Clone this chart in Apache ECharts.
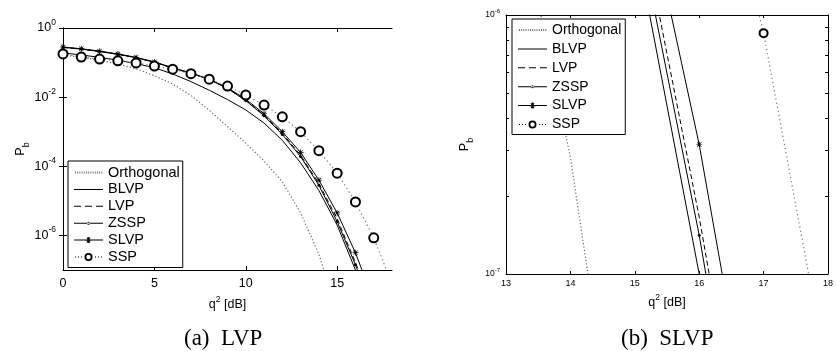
<!DOCTYPE html>
<html>
<head>
<meta charset="utf-8">
<script src="https://cdn.jsdelivr.net/npm/echarts@6/dist/echarts.min.js"></script>
<style>
html,body{margin:0;padding:0;background:#fff;}
#c{width:836px;height:351px;}
</style>
</head>
<body>
<div id="c"></div>
<script>
// ---- data (log10 of P_b) ----
const snrDb = [0,1,2,3,4,5,6,7,8,9,10,11,12,13,14,15,16,17,18];
const orthogonalExp = [-0.78,-0.85,-0.93,-1.04,-1.18,-1.38,-1.62,-1.95,-2.38,-2.85,-3.33,-3.85,-4.45,-5.35,-6.55,-8.2,-10.0,-12.0,-14.0];
const blvpExp  = [-0.72,-0.78,-0.85,-0.93,-1.03,-1.15,-1.33,-1.55,-1.80,-2.07,-2.37,-2.75,-3.25,-3.90,-4.70,-5.70,-7.00,-8.50,-10.2];
const lvpExp   = [-0.56,-0.61,-0.68,-0.76,-0.86,-0.99,-1.16,-1.31,-1.49,-1.74,-2.09,-2.52,-3.05,-3.68,-4.50,-5.52,-6.78,-8.20,-9.80];
const zsspExp  = [-0.56,-0.61,-0.68,-0.76,-0.86,-0.99,-1.16,-1.31,-1.49,-1.75,-2.10,-2.54,-3.08,-3.72,-4.55,-5.60,-6.85,-8.30,-9.90];
const slvpExp  = [-0.55,-0.60,-0.67,-0.75,-0.85,-0.98,-1.15,-1.30,-1.48,-1.73,-2.06,-2.48,-3.00,-3.60,-4.40,-5.35,-6.50,-7.90,-9.50];
const sspExp   = [-0.75,-0.84,-0.90,-0.95,-1.01,-1.10,-1.19,-1.32,-1.48,-1.68,-1.94,-2.23,-2.57,-3.00,-3.55,-4.20,-5.03,-6.07,-7.40];
const seriesNames = ['Orthogonal','BLVP','LVP','ZSSP','SLVP','SSP'];
const leftXTicks = [0,5,10,15];
const leftYTicks = [1,1e-2,1e-4,1e-6];
const rightYMinorTicks = [1e-7,2e-7,3e-7,4e-7,5e-7,6e-7,7e-7,8e-7,9e-7,1e-6];
const rightYLabels = [1e-7,1e-6];
const captions = ['(a)  LVP','(b)  SLVP'];

const FONT = 'Liberation Sans';
const toPts = exps => snrDb.map((x,i)=>[x, Math.pow(10, exps[i])]);

const starPath = 'path://M0,4.4L10,4.4L10,5.6L0,5.6Z M4.4,0L5.6,0L5.6,10L4.4,10Z M1,1.8L1.8,1L9,8.2L8.2,9Z M8.2,1L9,1.8L1.8,9L1,8.2Z';
const anchors = 'M0,0h0.01v0.01h-0.01Z M28.99,11.99h0.01v0.01h-0.01Z ';
function dotsPath(){ let s=''; for(let x=1;x<29;x+=2.2){ s+='M'+x+',5L'+(x+0.9)+',5L'+(x+0.9)+',7L'+x+',7Z '; } return s; }
const icons = {
  'Orthogonal': 'path://' + anchors + dotsPath(),
  'BLVP': 'path://' + anchors + 'M0,5.5L29,5.5L29,6.5L0,6.5Z',
  'LVP': 'path://' + anchors + 'M0,5.5L7,5.5L7,6.5L0,6.5Z M11,5.5L18,5.5L18,6.5L11,6.5Z M22,5.5L29,5.5L29,6.5L22,6.5Z',
  'ZSSP': 'path://' + anchors + 'M0,5.5L29,5.5L29,6.5L0,6.5Z M13,6a1.5,1.5 0 1,0 3,0a1.5,1.5 0 1,0 -3,0Z',
  'SLVP': 'path://' + anchors + 'M0,5.5L29,5.5L29,6.5L0,6.5Z M11.5,5.4L17.5,5.4L17.5,6.6L11.5,6.6Z M13.9,3L15.1,3L15.1,9L13.9,9Z M12.6,3.8L13.3,3.1L16.4,8.2L15.7,8.9Z M15.7,3.1L16.4,3.8L13.3,8.9L12.6,8.2Z',
  'SSP': 'path://' + anchors + 'M1,5.4L2,5.4L2,6.6L1,6.6Z M4,5.4L5,5.4L5,6.6L4,6.6Z M7,5.4L8,5.4L8,6.6L7,6.6Z M21,5.4L22,5.4L22,6.6L21,6.6Z M24,5.4L25,5.4L25,6.6L24,6.6Z M27,5.4L28,5.4L28,6.6L27,6.6Z M10.5,6a4,4 0 1,0 8,0a4,4 0 1,0 -8,0Z M12.3,6a2.2,2.2 0 1,1 4.4,0a2.2,2.2 0 1,1 -4.4,0Z'
};

function makeSeries(xi, yi, big){
  return [
    {name:'Orthogonal', data: toPts(orthogonalExp), symbol:'none', lineStyle:{color:'#666', width:1.2, type:[1.2,2.2]}, itemStyle:{color:'#666'}},
    {name:'BLVP', data: toPts(blvpExp), symbol:'none', lineStyle:{color:'#000', width:1}, itemStyle:{color:'#000'}},
    {name:'LVP', data: toPts(lvpExp), symbol:'none', lineStyle:{color:'#000', width:1, type:[5,3]}, itemStyle:{color:'#000'}},
    {name:'ZSSP', data: toPts(zsspExp), symbol:'circle', symbolSize:3, lineStyle:{color:'#000', width:1}, itemStyle:{color:'#000'}},
    {name:'SLVP', data: toPts(slvpExp), symbol:starPath, symbolSize:6, lineStyle:{color:'#000', width:1}, itemStyle:{color:'#000'}},
    {name:'SSP', data: toPts(sspExp), symbol:'emptyCircle', symbolSize: big ? 9 : 8, lineStyle:{color:'#777', width:1.2, type:[1.2,3]}, itemStyle:{color:'#000', borderWidth:2}}
  ].map(s => Object.assign(s, {type:'line', xAxisIndex:xi, yAxisIndex:yi, showAllSymbol:true, clip:true, animation:false, emphasis:{disabled:true}}));
}

function supFmt(v){ const e = Math.round(Math.log10(v)); return '{b|10}{s|' + e + '}'; }

const axisLineStyle = {show:true, lineStyle:{color:'#000', width:1}};
const nameRich = {n:{fontFamily:FONT, fontSize:12.5, color:'#000', lineHeight:20, verticalAlign:'middle'}, s:{fontFamily:FONT, fontSize:8.5, color:'#000', lineHeight:8, verticalAlign:'top'}};
const pbRich = {n:{fontFamily:FONT, fontSize:12.5, color:'#000', lineHeight:20, verticalAlign:'middle'}, u:{fontFamily:FONT, fontSize:9, color:'#000', lineHeight:8, verticalAlign:'bottom'}};

const option = {
  animation:false,
  backgroundColor:'#fff',
  title: [
    {text: captions[0], left: 179, top: 322, textStyle:{fontFamily:'Liberation Serif', fontSize:23, fontWeight:'normal', color:'#000'}},
    {text: captions[1], left: 616, top: 322, textStyle:{fontFamily:'Liberation Serif', fontSize:23, fontWeight:'normal', color:'#000'}}
  ],
  grid: [
    {left:63, top:28, width:329, height:242},
    {left:506, top:15, width:330, height:259}
  ],
  legend: [
    {orient:'vertical', left:68, top:161, itemWidth:29, itemHeight:12, itemGap:1.9, padding:[4,3,3,6],
     borderColor:'#000', borderWidth:1, backgroundColor:'#fff', selectedMode:false, z:10,
     itemStyle:{borderWidth:0},
     textStyle:{fontFamily:FONT, fontSize:14.5, color:'#000'},
     data: seriesNames.map(n=>({name:n, icon:icons[n]}))},
    {orient:'vertical', left:512, top:19, itemWidth:29, itemHeight:12, itemGap:4.9, padding:[4,4,3,6],
     borderColor:'#000', borderWidth:1, backgroundColor:'#fff', selectedMode:false, z:10,
     itemStyle:{borderWidth:0},
     textStyle:{fontFamily:FONT, fontSize:14, color:'#000'},
     data: seriesNames.map(n=>({name:n, icon:icons[n]}))}
  ],
  xAxis: [
    {gridIndex:0, type:'value', min:0, max:18, position:'bottom', axisLine:axisLineStyle,
     axisTick:{inside:true, length:4, customValues:leftXTicks, lineStyle:{color:'#000'}},
     axisLabel:{customValues:leftXTicks, fontFamily:FONT, fontSize:12.5, color:'#000', margin:7},
     splitLine:{show:false},
     name:'{n|q}{s|2}{n| [dB]}', nameLocation:'middle', nameGap:14,
     nameTextStyle:{rich:nameRich}},
    {gridIndex:0, type:'value', min:0, max:18, position:'top', axisLine:axisLineStyle,
     axisTick:{inside:true, length:4, customValues:leftXTicks, lineStyle:{color:'#000'}},
     axisLabel:{show:false}, splitLine:{show:false}},
    {gridIndex:1, type:'value', min:13, max:18, interval:1, position:'bottom', axisLine:axisLineStyle,
     axisTick:{inside:true, length:3, lineStyle:{color:'#000'}},
     axisLabel:{fontFamily:FONT, fontSize:9, color:'#000', margin:5},
     splitLine:{show:false},
     name:'{n|q}{s|2}{n| [dB]}', nameLocation:'middle', nameGap:15,
     nameTextStyle:{rich:nameRich}},
    {gridIndex:1, type:'value', min:13, max:18, interval:1, position:'top', axisLine:axisLineStyle,
     axisTick:{inside:true, length:3, lineStyle:{color:'#000'}},
     axisLabel:{show:false}, splitLine:{show:false}}
  ],
  yAxis: [
    {gridIndex:0, type:'log', logBase:10, min:1e-7, max:1, position:'left', axisLine:axisLineStyle,
     axisTick:{inside:true, length:4, customValues:leftYTicks, lineStyle:{color:'#000'}},
     axisLabel:{customValues:leftYTicks, margin:7, formatter:supFmt,
       rich:{b:{fontFamily:FONT, fontSize:12.5, color:'#000', lineHeight:20, verticalAlign:'middle'}, s:{fontFamily:FONT, fontSize:8.5, color:'#000', lineHeight:8, verticalAlign:'top'}}},
     splitLine:{show:false}, minorTick:{show:false},
     name:'{n|P}{u|b}', nameLocation:'middle', nameGap:30,
     nameTextStyle:{rich:pbRich}},
    {gridIndex:0, type:'log', logBase:10, min:1e-7, max:1, position:'right', axisLine:axisLineStyle,
     axisTick:{inside:true, length:4, customValues:leftYTicks, lineStyle:{color:'#000'}},
     axisLabel:{show:false}, splitLine:{show:false}},
    {gridIndex:1, type:'log', logBase:10, min:1e-7, max:1e-6, position:'left', axisLine:axisLineStyle,
     axisTick:{inside:true, length:3, customValues:rightYMinorTicks, lineStyle:{color:'#000'}},
     axisLabel:{customValues:rightYLabels, margin:6, formatter:supFmt,
       rich:{b:{fontFamily:FONT, fontSize:8.5, color:'#000', lineHeight:14, verticalAlign:'middle'}, s:{fontFamily:FONT, fontSize:6, color:'#000', lineHeight:6, verticalAlign:'top'}}},
     splitLine:{show:false},
     name:'{n|P}{u|b}', nameLocation:'middle', nameGap:31,
     nameTextStyle:{rich:pbRich}},
    {gridIndex:1, type:'log', logBase:10, min:1e-7, max:1e-6, position:'right', axisLine:axisLineStyle,
     axisTick:{inside:true, length:3, customValues:rightYMinorTicks, lineStyle:{color:'#000'}},
     axisLabel:{show:false}, splitLine:{show:false}}
  ],
  series: makeSeries(0,0,true).concat(makeSeries(2,2,false))
};
const chart = echarts.init(document.getElementById('c'), null, {renderer:'canvas'});
chart.setOption(option);
</script>
</body>
</html>
